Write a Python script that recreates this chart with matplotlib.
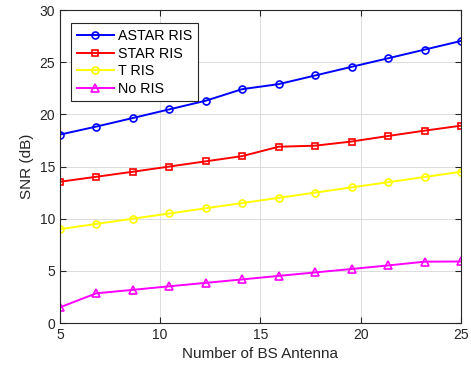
import numpy as np
import matplotlib
matplotlib.use("Agg")
import matplotlib.pyplot as plt

plt.rcParams['font.family'] = ['Liberation Sans', 'DejaVu Sans']

antennas = np.linspace(5, 25, 12)
astar_ris = [18.06, 18.83, 19.65, 20.48, 21.31, 22.42, 22.9, 23.73, 24.56, 25.38, 26.21, 27.04]
star_ris = [13.54, 14.02, 14.5, 15.0, 15.5, 16.0, 16.9, 17.0, 17.4, 17.93, 18.44, 18.92]
t_ris = [9.0, 9.5, 10.0, 10.5, 11.0, 11.5, 12.0, 12.5, 13.0, 13.5, 14.0, 14.5]
no_ris = [1.5, 2.85, 3.18, 3.52, 3.85, 4.18, 4.52, 4.85, 5.18, 5.52, 5.88, 5.9]

series = [
    ("ASTAR RIS", astar_ris, "#0000ff", "o", 5),
    ("STAR RIS", star_ris, "#ff0000", "s", 4.5),
    ("T RIS", t_ris, "#ffff00", "o", 5),
    ("No RIS", no_ris, "#ff00ff", "^", 5.5),
]

fig = plt.figure(figsize=(4.71, 3.73), dpi=100)
ax = fig.add_axes([0.127, 0.134, 0.852, 0.839])

for label, vals, color, marker, ms in series:
    ax.plot(antennas, vals, color=color, marker=marker, markersize=ms,
            markerfacecolor="none", markeredgewidth=1.2, linewidth=1.4, label=label)

ax.set_xlim(5, 25)
ax.set_ylim(0, 30)
ax.set_xticks([5, 10, 15, 20, 25])
ax.set_yticks([0, 5, 10, 15, 20, 25, 30])
ax.grid(True, color="#dcdcdc", linewidth=0.7)
ax.set_axisbelow(True)
ax.tick_params(direction="in", labelsize=10, colors="#262626", length=4, top=True, right=True)
for sp in ax.spines.values():
    sp.set_color("#262626")
    sp.set_linewidth(0.8)

ax.set_xlabel("Number of BS Antenna", fontsize=11, color="#262626")
ax.set_ylabel("SNR (dB)", fontsize=11, color="#262626")

leg = ax.legend(loc="upper left", bbox_to_anchor=(0.028, 0.958), fontsize=10.3,
                fancybox=False, edgecolor="#262626", framealpha=1,
                handlelength=2.6, borderaxespad=0, labelspacing=0.25,
                handletextpad=0.25, borderpad=0.4)
leg.get_frame().set_linewidth(0.8)

fig.savefig("out.png", dpi=100)
